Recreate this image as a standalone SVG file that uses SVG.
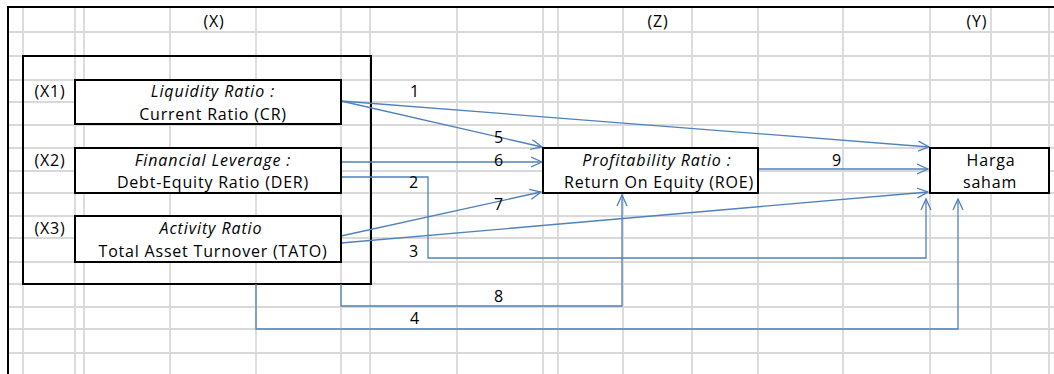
<svg xmlns="http://www.w3.org/2000/svg" width="1054" height="374" viewBox="0 0 1054 374">
<defs>
<style>
.grid line{stroke:#d9d9d9;stroke-width:1.8}
.frame{stroke:#000;stroke-width:2;fill:none}
.box{stroke:#000;stroke-width:2;fill:#fff}
text{font-family:"Open Sans","Liberation Sans",sans-serif;font-size:16px;letter-spacing:0.8px;fill:#000;text-anchor:middle}
.it{font-style:italic;letter-spacing:0.9px}
.conn path{stroke:#4f81bd;stroke-width:1.3;fill:none}
.arr{marker-end:url(#ah)}
</style>
<marker id="ah" viewBox="0 0 12 12" refX="11" refY="6" markerWidth="12" markerHeight="12" markerUnits="userSpaceOnUse" orient="auto">
<path d="M0,1 L11,6 L0,11" fill="none" stroke="#4f81bd" stroke-width="1.3"/>
</marker>
</defs>
<rect width="1054" height="374" fill="#fff"/>
<g class="grid">
<line x1="23" y1="7" x2="23" y2="374"/><line x1="75" y1="7" x2="75" y2="374"/><line x1="84" y1="7" x2="84" y2="374"/>
<line x1="170" y1="7" x2="170" y2="374"/><line x1="256" y1="7" x2="256" y2="374"/><line x1="341" y1="7" x2="341" y2="374"/>
<line x1="370" y1="7" x2="370" y2="374"/><line x1="457" y1="7" x2="457" y2="374"/><line x1="543" y1="7" x2="543" y2="374"/>
<line x1="558" y1="7" x2="558" y2="374"/><line x1="623" y1="7" x2="623" y2="374"/><line x1="692" y1="7" x2="692" y2="374"/>
<line x1="758" y1="7" x2="758" y2="374"/><line x1="843" y1="7" x2="843" y2="374"/><line x1="930" y1="7" x2="930" y2="374"/>
<line x1="991" y1="7" x2="991" y2="374"/><line x1="1049" y1="7" x2="1049" y2="374"/>
<line x1="8" y1="32" x2="1054" y2="32"/><line x1="8" y1="56" x2="1054" y2="56"/><line x1="8" y1="80" x2="1054" y2="80"/>
<line x1="8" y1="102" x2="1054" y2="102"/><line x1="8" y1="125" x2="1054" y2="125"/><line x1="8" y1="148" x2="1054" y2="148"/>
<line x1="8" y1="171" x2="1054" y2="171"/><line x1="8" y1="193" x2="1054" y2="193"/><line x1="8" y1="216" x2="1054" y2="216"/>
<line x1="8" y1="238" x2="1054" y2="238"/><line x1="8" y1="262" x2="1054" y2="262"/><line x1="8" y1="284" x2="1054" y2="284"/>
<line x1="8" y1="307" x2="1054" y2="307"/><line x1="8" y1="329" x2="1054" y2="329"/><line x1="8" y1="353" x2="1054" y2="353"/>
</g>
<path class="frame" d="M8,374 V7 H1054"/>
<g id="headers">
<text x="214" y="27">(X)</text>
<text x="658" y="27">(Z)</text>
<text x="977" y="27">(Y)</text>
</g>
<rect id="groupX" class="frame" x="23" y="56" width="348" height="228"/>
<g class="conn" id="connectors">
<path class="arr" d="M341,101 L929,147"/>
<path class="arr" d="M341,101 L542,147"/>
<path class="arr" d="M341,162 L542,162"/>
<path class="arr" d="M341,177 H428 V258 H926 V199"/>
<path class="arr" d="M341,236 L541,192"/>
<path class="arr" d="M341,243 L928,192"/>
<path class="arr" d="M256,284 V329 H958 V199"/>
<path class="arr" d="M341,284 V306 H622 V195"/>
<path class="arr" d="M758,169 H928"/>
</g>
<g id="connector-labels">
<text x="415" y="97">1</text>
<text x="414" y="188">2</text>
<text x="414" y="257">3</text>
<text x="415" y="324">4</text>
<text x="499" y="143">5</text>
<text x="499" y="166">6</text>
<text x="499" y="210">7</text>
<text x="499" y="302">8</text>
<text x="837" y="166">9</text>
</g>
<g id="X1">
<text x="50" y="97">(X1)</text>
<rect class="box" x="75" y="80" width="266" height="44"/>
<text class="it" x="213" y="97">Liquidity Ratio  :</text>
<text x="213" y="120">Current Ratio (CR)</text>
</g>
<g id="X2">
<text x="50" y="166">(X2)</text>
<rect class="box" x="75" y="148" width="266" height="45"/>
<text class="it" x="213" y="166">Financial Leverage  :</text>
<text x="213" y="188">Debt-Equity Ratio (DER)</text>
</g>
<g id="X3">
<text x="50" y="234">(X3)</text>
<rect class="box" x="75" y="216" width="266" height="46"/>
<text class="it" x="211" y="234">Activity Ratio</text>
<text x="213" y="257">Total Asset Turnover (TATO)</text>
</g>
<g id="Z">
<rect class="box" x="543" y="148" width="215" height="45"/>
<text class="it" x="657" y="166">Profitability Ratio  :</text>
<text x="659" y="188">Return On Equity (ROE)</text>
</g>
<g id="Y">
<rect class="box" x="930" y="148" width="119" height="45"/>
<text x="991" y="166">Harga</text>
<text x="990" y="188">saham</text>
</g>
</svg>
